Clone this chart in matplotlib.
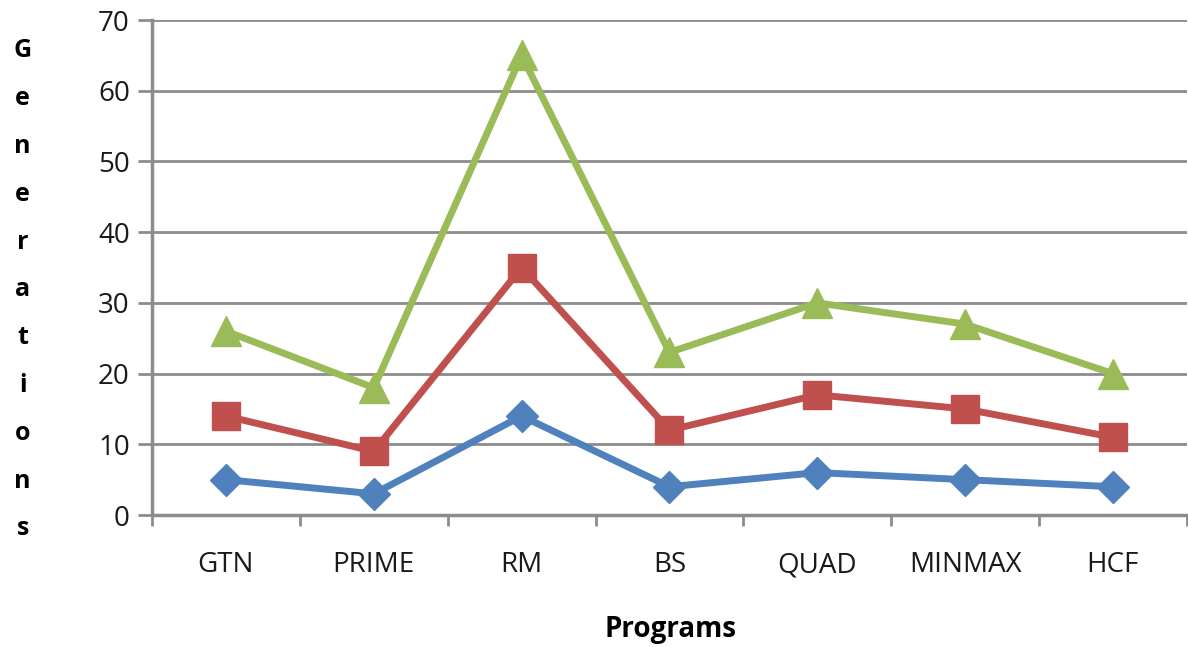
import matplotlib
matplotlib.use("Agg")
from matplotlib import pyplot as plt

programs = ["GTN", "PRIME", "RM", "BS", "QUAD", "MINMAX", "HCF"]
blueVals = [5, 3, 14, 4, 6, 5, 4]
redVals = [14, 9, 35, 12, 17, 15, 11]
greenVals = [26, 18, 65, 23, 30, 27, 20]

plt.rcParams['font.family'] = ['Open Sans', 'DejaVu Sans']

fig = plt.figure(figsize=(11.88, 6.47), dpi=100)
ax = fig.add_axes([0.128, 0.204, 0.871, 0.765])

xs = list(range(len(programs)))
ax.plot(xs, blueVals, color='#4F81BD', lw=5, marker='D', markersize=16, zorder=3)
ax.plot(xs, redVals, color='#C0504D', lw=5, marker='s', markersize=20, zorder=3)
ax.plot(xs, greenVals, color='#9BBB59', lw=5, marker='^', markersize=22, zorder=3)

ax.set_xlim(-0.5, len(programs) - 0.5)
ax.set_ylim(0, 70)
ax.set_yticks(range(0, 71, 10))
ax.yaxis.grid(True, color='#8c8c8c', lw=2)
ax.set_axisbelow(True)

# category boundaries get the tick marks, names sit between them
ax.set_xticks([i - 0.5 for i in range(len(programs) + 1)])
ax.set_xticklabels([])
ax.set_xticks(xs, minor=True)
ax.set_xticklabels(programs, minor=True, fontsize=20, color='#1a1a1a')
ax.tick_params(axis='x', which='minor', length=0, pad=26)
ax.tick_params(axis='x', which='major', length=8, width=2, color='#8c8c8c', direction='out')
ax.tick_params(axis='y', length=10, width=2, color='#8c8c8c', labelsize=20,
               labelcolor='#1a1a1a', pad=6)

for side in ['top', 'right']:
    ax.spines[side].set_visible(False)
for side in ['left', 'bottom']:
    ax.spines[side].set_color('#8c8c8c')
    ax.spines[side].set_linewidth(2.5)

fig.text(0.564, 0.027, "Programs", fontsize=20, fontweight='bold', ha='center', va='center')
ylabel = "\n".join("Generations")
fig.text(0.019, 0.552, ylabel, fontsize=18, fontweight='bold', ha='center', va='center',
         linespacing=2.2)

fig.savefig("out.png", dpi=100)
